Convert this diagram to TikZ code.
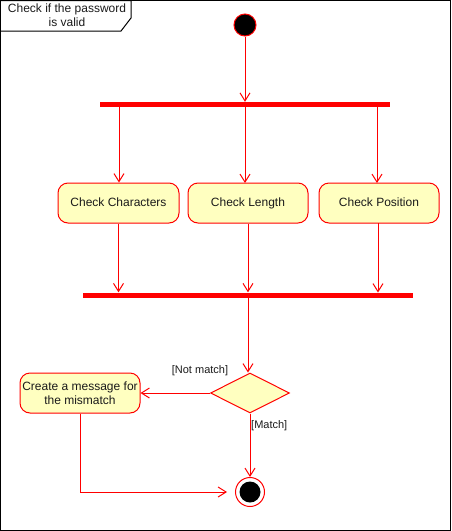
\documentclass[tikz,border=0pt]{standalone}
\usepackage{fontspec}
\setmainfont{Liberation Sans}
\usetikzlibrary{arrows.meta,shapes.geometric}
\definecolor{umlred}{HTML}{FF0000}
\definecolor{umlfill}{HTML}{FFFFC0}
\definecolor{umltext}{HTML}{1A1A1A}
\tikzset{
  action/.style={draw=umlred, fill=umlfill, rounded corners=10pt, line width=1pt,
    minimum height=40pt, inner sep=0pt, align=center, text=umltext,
    font=\fontsize{12}{14}\selectfont},
  oneline/.style={text height=9pt, text depth=2.6pt},
  bar/.style={fill=umlred, draw=none, minimum height=5pt, inner sep=0pt},
  flow/.style={draw=umlred, line width=1pt, -{Straight Barb[length=8pt,width=10pt]}},
  guard/.style={font=\fontsize{11}{13}\selectfont, text=umltext, inner sep=0pt},
}
\begin{document}
\begin{tikzpicture}[x=1pt,y=-1pt]
\useasboundingbox (0,0) rectangle (451,531);
% frame
\draw[black, line width=1pt] (0.5,0.5) rectangle (450.5,530.5);
\draw[black, line width=1pt] (0.5,0.5) -- (131,0.5) -- (131,18) -- (121,31) -- (0.5,31);
\node[font=\fontsize{12}{14}\selectfont, align=center, text=umltext, inner sep=0pt] (title) at (67,15.5) {Check if the password\\is valid};
% initial
\node[circle, fill=black, draw=umlred, line width=1pt, minimum size=22pt, inner sep=0pt] (init) at (245,25) {};
% fork
\node[bar, minimum width=290pt] (fork) at (245,104.5) {};
% actions
\node[action, oneline, minimum width=121pt] (cc) at (118.5,203) {Check Characters};
\node[action, oneline, minimum width=120pt] (cl) at (248,203) {Check Length};
\node[action, oneline, minimum width=120pt] (cp) at (379,203) {Check Position};
% join
\node[bar, minimum width=330pt] (join) at (248,295) {};
% decision
\node[diamond, draw=umlred, fill=umlfill, line width=1pt, minimum width=79pt, minimum height=40pt, inner sep=0pt, aspect=2] (dec) at (250,393) {};
% mismatch action
\node[action, minimum width=120pt] (mm) at (80,393) {Create a message for\\the mismatch};
% final
\node[circle, draw=umlred, fill=white, line width=1pt, minimum size=29pt, inner sep=0pt] (fin) at (250,492) {};
\node[circle, fill=black, minimum size=21pt, inner sep=0pt] (finin) at (250,492) {};
% flows
\draw[flow] (init) -- (init |- fork.north);
\draw[flow] (fork.south -| cc.north) ++(0.5,0) -- ([xshift=0.5pt]cc.north);
\draw[flow] (fork.south -| 245,0) -- (245,183);
\draw[flow] (fork.south -| 377,0) -- (377,183);
\draw[flow] (cc.south) -- (cc.south |- join.north);
\draw[flow] (cl.south) -- (cl.south |- join.north);
\draw[flow] (378,223) -- (378,292.5);
\draw[flow] (join.south -| 248,0) -- ([xshift=-2pt]dec.north);
\draw[flow] (dec.west) -- (mm.east);
\draw[flow] (dec.south) -- (fin.north);
\draw[flow] (mm.south) |- ([xshift=-8pt]fin.west);
% guards
\node[guard] (nm) at (200,371) {[Not match]};
\node[guard, anchor=west] (mt) at (251,426) {[Match]};
\end{tikzpicture}
\end{document}
